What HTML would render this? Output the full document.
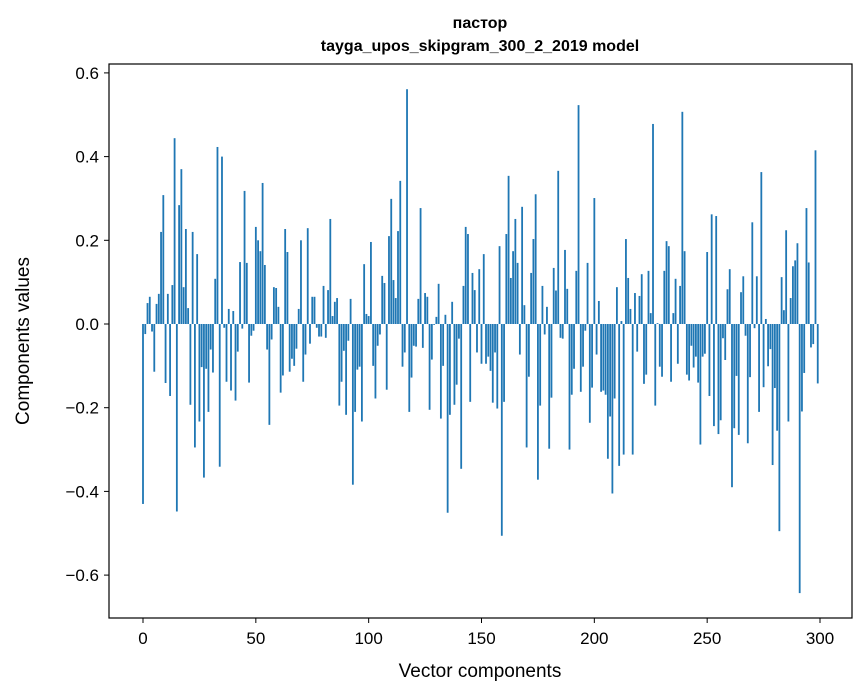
<!DOCTYPE html>
<html><head><meta charset="utf-8"><style>
body{margin:0;background:#fff;}
svg{display:block;font-family:"Liberation Sans","DejaVu Sans",sans-serif;}
</style></head><body>
<svg id="chart" width="867" height="696">
<rect width="867" height="696" fill="#fff"/>
<text x="480" y="28" text-anchor="middle" font-size="16" font-weight="bold">пастор</text>
<text x="480" y="51" text-anchor="middle" font-size="16" font-weight="bold">tayga_upos_skipgram_300_2_2019 model</text>
<g id="bars"></g>
<g id="axes"></g>
<rect x="109" y="64" width="743" height="554" fill="none" stroke="#000" stroke-width="1.2"/>
<text x="480" y="677" text-anchor="middle" font-size="19">Vector components</text>
<text transform="translate(29,341) rotate(-90)" text-anchor="middle" font-size="19">Components values</text>
</svg>
<script>
const values = [
-0.43,-0.024,0.05,0.065,-0.018,-0.114,0.048,0.072,0.22,0.308,
-0.141,0.072,-0.172,0.093,0.444,-0.448,0.284,0.37,0.088,0.227,
0.038,-0.193,0.22,-0.295,0.167,-0.233,-0.103,-0.367,-0.107,-0.21,
-0.061,-0.116,0.108,0.423,-0.341,0.4,-0.009,-0.138,0.036,-0.159,
0.031,-0.183,-0.066,0.148,-0.011,0.318,0.146,-0.14,-0.028,-0.016,
0.232,0.2,0.174,0.337,0.141,-0.061,-0.241,-0.037,0.088,0.086,
0.041,-0.164,-0.123,0.227,0.172,-0.114,-0.083,-0.1,-0.059,0.036,
0.2,-0.138,-0.073,0.229,-0.047,0.065,0.065,-0.009,-0.03,-0.03,
0.091,-0.033,0.081,0.251,0.019,0.053,0.062,-0.195,-0.138,-0.064,
-0.217,-0.04,0.06,-0.384,-0.21,-0.109,-0.102,-0.233,0.143,0.024,
0.019,0.196,-0.1,-0.178,-0.052,-0.025,0.115,0.098,-0.157,0.21,
0.299,0.105,0.062,0.222,0.342,-0.102,-0.068,0.561,-0.21,-0.128,
-0.052,-0.054,0.06,0.277,-0.057,0.074,0.065,-0.205,-0.085,-0.002,
0.017,0.096,-0.226,-0.1,0.022,-0.451,-0.217,0.053,-0.193,-0.145,
-0.035,-0.346,0.091,0.232,0.215,-0.186,0.122,0.081,-0.068,0.131,
-0.095,0.167,-0.095,-0.078,-0.112,-0.188,-0.068,-0.202,0.186,-0.506,
-0.186,0.215,0.354,0.11,0.174,0.251,0.146,-0.073,0.28,0.045,
-0.295,-0.126,0.122,0.203,0.31,-0.372,-0.195,0.091,-0.025,0.041,
-0.298,-0.176,0.134,0.08,0.366,-0.033,-0.035,0.177,0.084,-0.3,
-0.169,-0.107,0.127,0.523,-0.162,-0.102,-0.016,0.146,-0.236,-0.152,
0.301,-0.073,0.055,-0.162,-0.159,-0.169,-0.322,-0.221,-0.405,-0.178,
0.088,-0.339,0.007,-0.312,0.203,0.11,0.036,-0.312,0.074,-0.066,
0.067,0.119,-0.143,-0.121,0.127,0.026,0.478,-0.195,0.002,-0.102,
-0.126,0.127,0.198,0.186,-0.138,0.026,0.108,-0.095,0.091,0.507,
0.174,-0.121,-0.135,-0.052,-0.104,-0.078,-0.14,-0.288,-0.078,-0.071,
0.172,-0.172,0.262,-0.244,0.258,-0.263,-0.23,-0.034,-0.086,0.083,
0.131,-0.39,-0.249,-0.124,-0.265,0.076,0.114,-0.028,-0.285,-0.127,
0.243,-0.01,0.114,-0.21,0.363,-0.151,0.012,-0.101,-0.06,-0.337,
-0.153,-0.255,-0.495,0.112,0.033,0.224,-0.233,0.062,0.138,0.152,
0.193,-0.643,-0.209,-0.117,0.277,0.147,-0.056,-0.048,0.415,-0.142
];
const xTicks = [0,50,100,150,200,250,300];
const yTicks = [-0.6,-0.4,-0.2,0.0,0.2,0.4,0.6];
const yTickLabels = ["\u22120.6","\u22120.4","\u22120.2","0.0","0.2","0.4","0.6"];

const NS="http://www.w3.org/2000/svg";
function xs(v){return 143+v*(677/300);}
function ys(v){return 324-v*418.5;}
const bars=document.getElementById('bars');
values.forEach((v,i)=>{
  const r=document.createElementNS(NS,'rect');
  const w=0.8*(677/300);
  r.setAttribute('x',xs(i)-w/2);
  r.setAttribute('y',Math.min(ys(v),ys(0)));
  r.setAttribute('width',w);
  r.setAttribute('height',Math.abs(ys(v)-ys(0)));
  r.setAttribute('fill','#1f77b4');
  
  
  bars.appendChild(r);
});
const axes=document.getElementById('axes');
xTicks.forEach(t=>{
  const l=document.createElementNS(NS,'line');
  l.setAttribute('x1',xs(t));l.setAttribute('x2',xs(t));
  l.setAttribute('y1',618);l.setAttribute('y2',623);
  l.setAttribute('stroke','#000');
  
  
  axes.appendChild(l);
  const tx=document.createElementNS(NS,'text');
  tx.setAttribute('x',xs(t));tx.setAttribute('y',644);
  tx.setAttribute('text-anchor','middle');tx.setAttribute('font-size','17');
  tx.textContent=t;
  
  
  axes.appendChild(tx);
});
yTicks.forEach((t,i)=>{
  const l=document.createElementNS(NS,'line');
  l.setAttribute('x1',104);l.setAttribute('x2',109);
  l.setAttribute('y1',ys(t));l.setAttribute('y2',ys(t));
  l.setAttribute('stroke','#000');
  
  
  axes.appendChild(l);
  const tx=document.createElementNS(NS,'text');
  tx.setAttribute('x',99);tx.setAttribute('y',ys(t)+6);
  tx.setAttribute('text-anchor','end');tx.setAttribute('font-size','17');
  tx.textContent=yTickLabels[i];
  
  
  axes.appendChild(tx);
});
</script>
</body></html>
